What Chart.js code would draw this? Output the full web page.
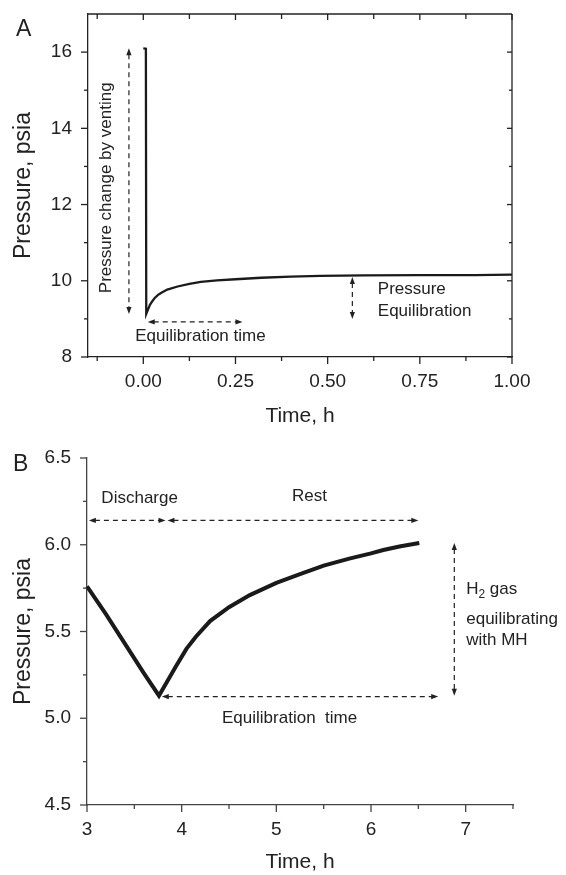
<!DOCTYPE html>
<html>
<head>
<meta charset="utf-8">
<script src="https://cdn.jsdelivr.net/npm/chart.js@4.4.1/dist/chart.umd.min.js"></script>
<style>
  html, body { margin: 0; padding: 0; background: #fff; }
  body { width: 566px; height: 875px; position: relative; overflow: hidden; font-family: "Liberation Sans", Arial, sans-serif; }
  .panel { position: absolute; left: 0; width: 566px; }
  #wrapA { top: 0; height: 437px; }
  #wrapB { top: 437px; height: 438px; }
  .letter { position: absolute; font-size: 23px; line-height: 1; color: #222; }
</style>
</head>
<body>
<div class="panel" id="wrapA"><canvas id="chartA" width="566" height="437"></canvas></div>
<div class="panel" id="wrapB"><canvas id="chartB" width="566" height="438"></canvas></div>
<div class="letter" style="left:16px;top:17px">A</div>
<div class="letter" style="left:13px;top:452px">B</div>
<script>
// panel A - venting then pressure recovery
const timeA = [0.000, 0.007, 0.008, 0.013, 0.018, 0.025, 0.031, 0.040, 0.048, 0.065, 0.093, 0.125, 0.156, 0.200, 0.250, 0.320, 0.400, 0.480, 0.600, 0.750, 0.900, 1.000];
const pressureA = [16.10, 16.09, 9.13, 9.25, 9.37, 9.47, 9.55, 9.63, 9.68, 9.77, 9.85, 9.92, 9.97, 10.01, 10.04, 10.08, 10.11, 10.13, 10.14, 10.15, 10.15, 10.16];

// panel B - discharge then rest
const timeB = [3.00, 3.20, 3.40, 3.60, 3.76, 3.85, 3.94, 4.05, 4.15, 4.30, 4.50, 4.72, 5.00, 5.25, 5.50, 5.77, 6.00, 6.13, 6.30, 6.51];
const pressureB = [5.76, 5.60, 5.43, 5.26, 5.13, 5.215, 5.30, 5.40, 5.47, 5.56, 5.64, 5.71, 5.78, 5.83, 5.88, 5.92, 5.95, 5.97, 5.99, 6.01];

const xTicksA = [0, 0.25, 0.5, 0.75, 1.0];
const xMinorA = [-0.125, 0.125, 0.375, 0.625, 0.875];
const yTicksA = [8, 10, 12, 14, 16];
const yMinorA = [9, 11, 13, 15];

const xTicksB = [3, 4, 5, 6, 7];
const xMinorB = [3.5, 4.5, 5.5, 6.5, 7.5];
const yTicksB = [4.5, 5.0, 5.5, 6.0, 6.5];
const yMinorB = [4.75, 5.25, 5.75, 6.25];

const family = '"Liberation Sans", Arial, Helvetica, sans-serif';
const ink = "#222";

const frameTicks = {
    id: "frameTicks",
    afterDatasetsDraw(chart, args, o) {
        const { ctx, chartArea: a } = chart;
        const x = chart.scales.x, y = chart.scales.y;
        ctx.save();
        ctx.strokeStyle = o.color;
        ctx.lineWidth = o.lineWidth;
        const line = (x1, y1, x2, y2) => { ctx.beginPath(); ctx.moveTo(x1, y1); ctx.lineTo(x2, y2); ctx.stroke(); };
        o.bottom.forEach(([vals, len]) => vals.forEach(v => { const p = x.getPixelForValue(v); line(p, a.bottom, p, a.bottom + len); }));
        o.left.forEach(([vals, len]) => vals.forEach(v => { const p = y.getPixelForValue(v); line(a.left, p, a.left - len, p); }));
        if (o.box) {
            line(a.left, a.top, a.right, a.top);
            line(a.right, a.top, a.right, a.bottom);
            o.top.forEach(([vals, len]) => vals.forEach(v => { const p = x.getPixelForValue(v); line(p, a.top, p, a.top + len); }));
            o.right.forEach(([vals, len]) => vals.forEach(v => { const p = y.getPixelForValue(v); line(a.right, p, a.right - len, p); }));
        }
        ctx.restore();
    }
};

const notes = {
    id: "notes",
    afterDatasetsDraw(chart, args, o) {
        const { ctx } = chart;
        const x = chart.scales.x, y = chart.scales.y;
        ctx.save();
        ctx.strokeStyle = o.color;
        ctx.fillStyle = o.color;
        ctx.lineWidth = 1.2;
        const head = (px, py, ang) => {
            const h = 7, w = 2.6;
            ctx.beginPath();
            ctx.moveTo(px, py);
            ctx.lineTo(px - h * Math.cos(ang) + w * Math.sin(ang), py - h * Math.sin(ang) - w * Math.cos(ang));
            ctx.lineTo(px - h * Math.cos(ang) - w * Math.sin(ang), py - h * Math.sin(ang) + w * Math.cos(ang));
            ctx.closePath();
            ctx.fill();
        };
        o.arrows.forEach(ar => {
            const x1 = x.getPixelForValue(ar.from[0]), y1 = y.getPixelForValue(ar.from[1]);
            const x2 = x.getPixelForValue(ar.to[0]), y2 = y.getPixelForValue(ar.to[1]);
            const ang = Math.atan2(y2 - y1, x2 - x1);
            const c = Math.cos(ang), s = Math.sin(ang);
            ctx.setLineDash([5, 4]);
            ctx.beginPath();
            ctx.moveTo(x1 + 6 * c, y1 + 6 * s);
            ctx.lineTo(x2 - 6 * c, y2 - 6 * s);
            ctx.stroke();
            ctx.setLineDash([]);
            head(x2, y2, ang);
            head(x1, y1, ang + Math.PI);
        });
        ctx.textBaseline = "middle";
        o.texts.forEach(t => {
            const px = x.getPixelForValue(t.at[0]), py = y.getPixelForValue(t.at[1]);
            ctx.save();
            ctx.translate(px, py);
            if (t.rotate) ctx.rotate(-Math.PI / 2);
            const parts = t.parts || [{ t: t.text }];
            const size = o.size;
            const widthOf = p => { ctx.font = (p.sub ? size * 0.7 : size) + "px " + family; return ctx.measureText(p.t).width; };
            const total = parts.reduce((acc, p) => acc + widthOf(p), 0);
            let cx = t.align === "center" ? -total / 2 : 0;
            ctx.textAlign = "left";
            parts.forEach(p => {
                const w = widthOf(p);
                ctx.fillText(p.t, cx, p.sub ? size * 0.32 : 0);
                cx += w;
            });
            ctx.restore();
        });
        ctx.restore();
    }
};

function xAxis(min, max, ticks, fmt, height, titlePad, color) {
    return {
        type: "linear", position: "bottom", min, max,
        grid: { display: false, drawTicks: false },
        border: { display: true, color, width: 1.3 },
        afterBuildTicks: s => { s.ticks = ticks.map(v => ({ value: v })); },
        afterFit: s => { s.height = height; s.paddingLeft = 0; s.paddingRight = 0; },
        ticks: { callback: v => fmt(v), padding: 13, color: ink, autoSkip: false, maxRotation: 0, font: { family, size: 19 } },
        title: { display: true, text: "Time, h", color: ink, font: { family, size: 21 }, padding: { top: 0, bottom: titlePad } }
    };
}

function yAxis(min, max, ticks, fmt, width, color) {
    return {
        type: "linear", position: "left", min, max,
        grid: { display: false, drawTicks: false },
        border: { display: true, color, width: 1.3 },
        afterBuildTicks: s => { s.ticks = ticks.map(v => ({ value: v })); },
        afterFit: s => { s.width = width; s.paddingTop = 0; s.paddingBottom = 0; },
        ticks: { callback: v => fmt(v), padding: 16, color: ink, autoSkip: false, font: { family, size: 19 } },
        title: { display: true, text: "Pressure, psia", color: ink, font: { family, size: 23 }, padding: { top: 10, bottom: 0 } }
    };
}

new Chart(document.getElementById("chartA"), {
    type: "line",
    data: {
        datasets: [{
            data: timeA.map((t, i) => ({ x: t, y: pressureA[i] })),
            borderColor: "#1a1a1a",
            borderWidth: 2.3,
            pointRadius: 0,
            tension: 0,
            fill: false
        }]
    },
    options: {
        responsive: false,
        animation: false,
        layout: { padding: { top: 14, right: 54, left: 0, bottom: 0 } },
        plugins: {
            legend: { display: false },
            tooltip: { enabled: false },
            frameTicks: {
                color: ink, lineWidth: 1.3, box: true,
                bottom: [[xTicksA, 7], [xMinorA, 4]],
                left: [[yTicksA, 7], [yMinorA, 4]],
                top: [[xTicksA, 6], [xMinorA, 5]],
                right: [[yTicksA, 5], [yMinorA, 3]]
            },
            notes: {
                color: ink, size: 17,
                arrows: [
                    { from: [-0.039, 16.10], to: [-0.039, 9.13] },
                    { from: [0.012, 8.92], to: [0.269, 8.92] },
                    { from: [0.567, 10.10], to: [0.567, 9.00] }
                ],
                texts: [
                    { at: [-0.101, 12.44], text: "Pressure change by venting", align: "center", rotate: true },
                    { at: [0.155, 8.54], text: "Equilibration time", align: "center" },
                    { at: [0.636, 9.78], text: "Pressure", align: "left" },
                    { at: [0.636, 9.21], text: "Equilibration", align: "left" }
                ]
            }
        },
        scales: {
            x: xAxis(-0.15, 1.0, xTicksA, v => v.toFixed(2), 80, 8, ink),
            y: yAxis(8, 17, yTicksA, v => String(v), 88, ink)
        }
    },
    plugins: [frameTicks, notes]
});

new Chart(document.getElementById("chartB"), {
    type: "line",
    data: {
        datasets: [{
            data: timeB.map((t, i) => ({ x: t, y: pressureB[i] })),
            borderColor: "#1a1a1a",
            borderWidth: 4,
            pointRadius: 0,
            tension: 0,
            fill: false,
            clip: false
        }]
    },
    options: {
        responsive: false,
        animation: false,
        layout: { padding: { top: 21, right: 53, left: 0, bottom: 0 } },
        plugins: {
            legend: { display: false },
            tooltip: { enabled: false },
            frameTicks: {
                color: "#444", lineWidth: 1.3, box: false,
                bottom: [[xTicksB, 7], [xMinorB, 4]],
                left: [[yTicksB, 7], [yMinorB, 4]]
            },
            notes: {
                color: ink, size: 17,
                arrows: [
                    { from: [3.02, 6.14], to: [3.83, 6.14] },
                    { from: [3.85, 6.14], to: [6.50, 6.14] },
                    { from: [6.88, 6.01], to: [6.88, 5.13] },
                    { from: [3.79, 5.125], to: [6.71, 5.125] }
                ],
                texts: [
                    { at: [3.556, 6.27], text: "Discharge", align: "center" },
                    { at: [5.35, 6.28], text: "Rest", align: "center" },
                    { at: [7.006, 5.744], parts: [{ t: "H" }, { t: "2", sub: true }, { t: " gas" }], align: "left" },
                    { at: [7.006, 5.571], text: "equilibrating", align: "left" },
                    { at: [7.006, 5.447], text: "with MH", align: "left" },
                    { at: [5.14, 5.00], text: "Equilibration  time", align: "center" }
                ]
            }
        },
        scales: {
            x: xAxis(3, 7.5, xTicksB, v => String(v), 70, 0, "#444"),
            y: yAxis(4.5, 6.5, yTicksB, v => v.toFixed(1), 87, "#444")
        }
    },
    plugins: [frameTicks, notes]
});
</script>
</body>
</html>
